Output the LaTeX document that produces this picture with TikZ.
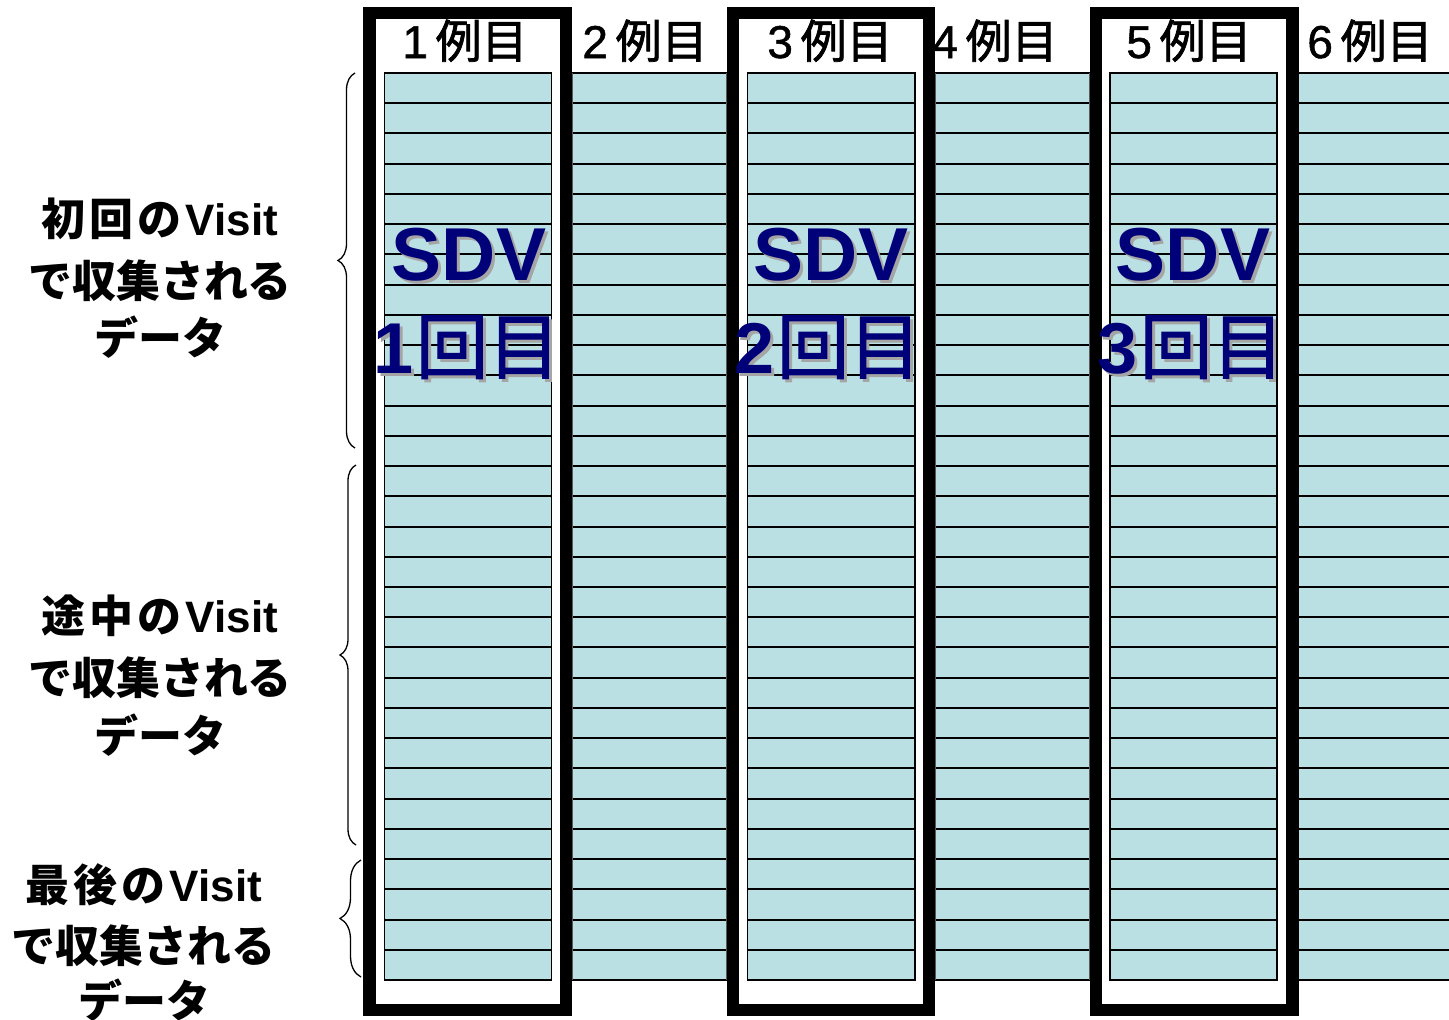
\documentclass[tikz,border=0pt]{standalone}
\usepackage{fontspec}
\setmainfont{Liberation Sans}
\newfontfamily\cjk{Noto Sans CJK JP}
\newfontfamily\cjkmid[FakeBold=1.6]{Noto Sans CJK JP}
\newfontfamily\latmid[FakeBold=1.2]{Liberation Sans}
\usetikzlibrary{decorations.pathreplacing}
\definecolor{cellfill}{RGB}{186,224,227}
\definecolor{sdvnavy}{RGB}{0,0,120}
\definecolor{shadowgray}{RGB}{165,165,165}
\definecolor{edgegray}{RGB}{90,90,90}
\tikzset{
  rowline/.style={line width=2pt, black},
  caseframe/.style={line width=12.5pt, black},
  inneredge/.style={line width=1.8pt, black},
  outeredge/.style={line width=1.5pt, edgegray},
  header/.style={anchor=base, font=\latmid\fontsize{46}{50}\selectfont, inner sep=0pt},
  sidelabel/.style={anchor=base, font=\bfseries\fontsize{44}{50}\selectfont, inner sep=0pt},
  sdvtext/.style={anchor=base, font=\bfseries\fontsize{75}{80}\selectfont, text=sdvnavy, inner sep=0pt},
  sdvnum/.style={anchor=base, font=\bfseries\fontsize{72}{80}\selectfont, text=sdvnavy, inner sep=0pt},
  sdvshadow/.style={text=shadowgray},
  bracestyle/.style={decorate, decoration={brace, amplitude=#1}, line width=1.3pt},
}
\newcommand\hdr[1]{#1\,{\cjkmid 例目}}
\newcommand\sdvn[1]{#1\hspace{2pt}{\cjkmid\mdseries 回目}}
\newcommand\gapsp{\hspace{4pt}}
\begin{document}
\begin{tikzpicture}[x=1pt, y=-1pt]
\useasboundingbox (0,0) rectangle (1449,1020);
\fill[white] (0,0) rectangle (1449,1020);

% data columns
\foreach \l/\r in {384.5/551.5, 572/727, 747.5/915, 935/1090, 1110/1277, 1298/1449}{
  \fill[cellfill] (\l,73) rectangle (\r,980);
  \foreach \i in {0,...,30}{
    \draw[rowline] (\l,{73+\i*30.2333}) -- (\r,{73+\i*30.2333});
  }
}
% column edges
\foreach \l/\r in {384.5/551.5, 747.5/915, 1110/1277}{
  \draw[inneredge] (\l,73) rectangle (\r,980);
}
\foreach \l/\r in {572/727, 935/1090}{
  \draw[outeredge] (\l,73) -- (\l,980) (\r,73) -- (\r,980);
}
\draw[outeredge] (1298,73) -- (1298,980);

% thick frames around SDV cases
\draw[caseframe] (369.5,13) rectangle (566,1010);
\draw[caseframe] (733,13) rectangle (929,1010);
\draw[caseframe] (1096,13) rectangle (1292.5,1010);

% headers
\node[header] (h1) at (465,58) {\hdr{1}};
\node[header] (h2) at (645,58) {\hdr{2}};
\node[header] (h3) at (830,58) {\hdr{3}};
\node[header] (h4) at (995,58) {\hdr{4}};
\node[header] (h5) at (1189,58) {\hdr{5}};
\node[header] (h6) at (1370,58) {\hdr{6}};

% SDV labels with shadow
\foreach \x/\k in {469/a, 831/b, 1193/c}{
  \node[sdvtext, sdvshadow] (sdvs\k) at (\x+3,283) {SDV};
  \node[sdvtext] (sdv\k) at (\x,280) {SDV};
}
\node[sdvnum, sdvshadow] (numsa) at (470,376) {\sdvn{1}};
\node[sdvnum] (numa) at (467,373) {\sdvn{1}};
\node[sdvnum, sdvshadow] (numsb) at (831,376) {\sdvn{2}};
\node[sdvnum] (numb) at (828,373) {\sdvn{2}};
\node[sdvnum, sdvshadow] (numsc) at (1194,376) {\sdvn{3}};
\node[sdvnum] (numc) at (1191,373) {\sdvn{3}};

% side labels
\node[sidelabel] (l1a) at (160,235) {{\cjk 初\gapsp 回\gapsp の}\gapsp Visit};
\node[sidelabel] (l1b) at (160,297) {\cjk で収集される};
\node[sidelabel] (l1c) at (160,354) {\cjk データ};
\node[sidelabel] (l2a) at (160,632) {{\cjk 途\gapsp 中\gapsp の}\gapsp Visit};
\node[sidelabel] (l2b) at (160,694) {\cjk で収集される};
\node[sidelabel] (l2c) at (160,752) {\cjk データ};
\node[sidelabel] (l3a) at (144,901) {{\cjk 最\gapsp 後\gapsp の}\gapsp Visit};
\node[sidelabel] (l3b) at (144,962) {\cjk で収集される};
\node[sidelabel] (l3c) at (144,1017) {\cjk データ};

% braces
\draw[bracestyle=17pt] (355,448) -- (355,73);
\draw[bracestyle=16pt] (356,845) -- (356,465);
\draw[bracestyle=21pt] (361,977) -- (361,860);
\end{tikzpicture}
\end{document}
